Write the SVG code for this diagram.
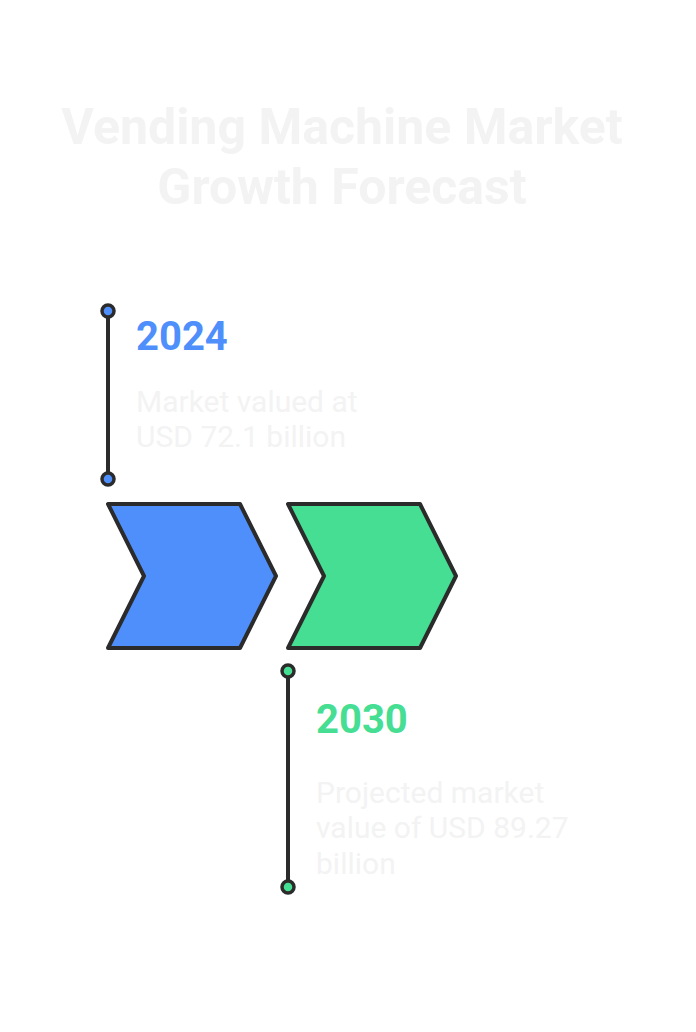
<svg xmlns="http://www.w3.org/2000/svg" width="696" height="1032" viewBox="0 0 696 1032">
<style>
.title{font-family:Roboto,"Liberation Sans",sans-serif;font-weight:700;font-size:50px;fill:#f3f3f3;text-anchor:middle}
.year{font-family:Roboto,"Liberation Sans",sans-serif;font-weight:700;font-size:40px}
.desc{font-family:Roboto,"Liberation Sans",sans-serif;font-size:30px;fill:#f3f3f3}
.shape{stroke:#2b2b2b;stroke-width:4;stroke-linejoin:round}
.line{stroke:#2b2b2b;stroke-width:4;fill:none}
.dot{stroke:#2b2b2b;stroke-width:3.5}
</style>
<rect width="696" height="1032" fill="#ffffff"/>
<g id="title">
<text class="title" x="342" y="144">Vending Machine Market</text>
<text class="title" x="342" y="204">Growth Forecast</text>
</g>
<g id="connectors">
<line class="line" x1="108" y1="311" x2="108" y2="479"/>
<line class="line" x1="288" y1="671" x2="288" y2="887"/>
</g>
<g id="node-2024">
<polygon class="shape" fill="#4f8ffc" points="108,504 240,504 276,576 240,648 108,648 144,576"/>
<circle class="dot" cx="108" cy="311" r="6" fill="#4f8ffc"/>
<circle class="dot" cx="108" cy="479" r="6" fill="#4f8ffc"/>
<text class="year" x="136" y="350" fill="#4f8ffc">2024</text>
<text class="desc" x="136" y="412">Market valued at</text>
<text class="desc" x="136" y="447">USD 72.1 billion</text>
</g>
<g id="node-2030">
<polygon class="shape" fill="#45de93" points="288,504 420,504 456,576 420,648 288,648 324,576"/>
<circle class="dot" cx="288" cy="671" r="6" fill="#45de93"/>
<circle class="dot" cx="288" cy="887" r="6" fill="#45de93"/>
<text class="year" x="316" y="733" fill="#45de93">2030</text>
<text class="desc" x="316" y="803">Projected market</text>
<text class="desc" x="316" y="838">value of USD 89.27</text>
<text class="desc" x="316" y="874">billion</text>
</g>
</svg>
